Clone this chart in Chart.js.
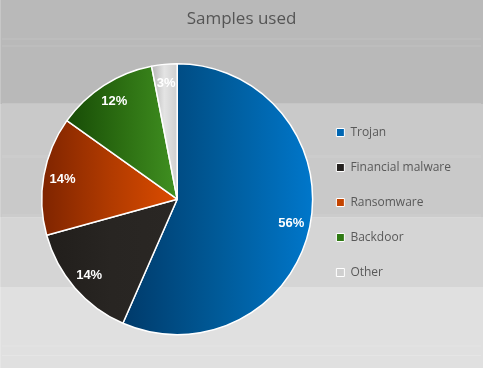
<!DOCTYPE html>
<html><head><meta charset="utf-8">
<script src="https://cdn.jsdelivr.net/npm/chart.js@4/dist/chart.umd.min.js"></script>
<style>html,body{margin:0;padding:0;background:#b9b9b9;overflow:hidden}canvas{display:block}</style>
</head><body>
<canvas id="c" width="483" height="368"></canvas>
<script>
// ---- data ----
const categories = ['Trojan', 'Financial malware', 'Ransomware', 'Backdoor', 'Other'];
const shares = [56, 14, 14, 12, 3];
const shareLabels = ['56%', '14%', '14%', '12%', '3%'];

// ---- styles ----
const sliceStops = [
  ['#003a6a', '#005a98', '#0077cb'],
  ['#211e1b', '#282522', '#2a2724'],
  ['#7e2400', '#b03a00', '#dc4c00'],
  ['#174b06', '#2c6e12', '#409021'],
  ['#b4b4b4', '#e4e4e4', '#cfcfcf']
];
const legendColors = ['#0066b2', '#252220', '#c44400', '#2f7a14', '#cfcfcf'];

function sliceGradient(ctx) {
  const chart = ctx.chart;
  const area = chart.chartArea;
  const i = ctx.dataIndex;
  if (!area || ctx.type !== 'data') return legendColors[i] || '#888';
  const data = ctx.dataset.data;
  const total = data.reduce((a, b) => a + b, 0);
  const cx = (area.left + area.right) / 2;
  const r = Math.min(area.right - area.left, area.bottom - area.top) / 2;
  let a0 = -Math.PI / 2;
  for (let k = 0; k < i; k++) a0 += data[k] / total * Math.PI * 2;
  const a1 = a0 + data[i] / total * Math.PI * 2;
  const xs = [cx, cx + r * Math.cos(a0), cx + r * Math.cos(a1)];
  for (let m = -2; m <= 4; m++) {
    const a = m * Math.PI;
    if (a > a0 && a < a1) xs.push(cx + r * Math.cos(a));
  }
  const x0 = Math.min(...xs), x1 = Math.max(...xs);
  const g = chart.ctx.createLinearGradient(x0, 0, Math.max(x1, x0 + 1), 0);
  const st = sliceStops[i];
  g.addColorStop(0, st[0]);
  g.addColorStop(0.5, st[1]);
  g.addColorStop(1, st[2]);
  return g;
}

const bandsPlugin = {
  id: 'bands',
  afterLayout(chart) {
    // center the title across the full canvas width
    if (chart.titleBlock) {
      chart.titleBlock.left = 0;
      chart.titleBlock.right = chart.width;
      chart.titleBlock.width = chart.width;
    }
  },
  beforeDraw(chart) {
    const c = chart.ctx, w = chart.width;
    c.save();
    const bands = [[0, 104, '#b9b9b9'], [104, 217, '#c9c9c9'], [217, 287, '#d5d5d5'], [287, 368, '#e0e0e0']];
    bands.forEach(b => { c.fillStyle = b[2]; c.fillRect(0, b[0], w, b[1] - b[0]); });
    c.fillStyle = 'rgba(255,255,255,0.07)';
    [[38, 2], [45, 2], [155, 3], [214, 4], [345, 2]].forEach(l => c.fillRect(2, l[0], w - 4, l[1]));
    c.fillStyle = 'rgba(255,255,255,0.18)';
    [[103, 1], [355, 1]].forEach(l => c.fillRect(2, l[0], w - 4, l[1]));
    c.fillStyle = 'rgba(255,255,255,0.2)';
    c.fillRect(0, 0, 1, 368);
    c.restore();
  }
};

const labelPlugin = {
  id: 'sliceLabels',
  afterDatasetsDraw(chart) {
    const meta = chart.getDatasetMeta(0);
    const c = chart.ctx;
    c.save();
    c.font = 'bold 13px "Liberation Sans", Arial, sans-serif';
    c.fillStyle = '#ffffff';
    c.textAlign = 'center';
    c.textBaseline = 'middle';
    meta.data.forEach((arc, i) => {
      const p = arc.getProps(['x', 'y', 'startAngle', 'endAngle', 'outerRadius'], true);
      const mid = (p.startAngle + p.endAngle) / 2;
      const rr = p.outerRadius * 0.86;
      c.fillText(shareLabels[i], p.x + rr * Math.cos(mid), p.y + rr * Math.sin(mid));
    });
    c.restore();
  }
};

new Chart(document.getElementById('c'), {
  type: 'pie',
  data: {
    labels: categories,
    datasets: [{
      data: shares,
      backgroundColor: sliceGradient,
      borderColor: '#ffffff',
      borderWidth: 1.5
    }]
  },
  options: {
    responsive: false,
    devicePixelRatio: 1,
    animation: false,
    layout: { padding: { left: 41, right: 22, top: 0, bottom: 9 } },
    plugins: {
      tooltip: { enabled: false },
      title: {
        display: true,
        text: 'Samples used',
        color: '#555555',
        font: { family: '"Open Sans", sans-serif', size: 17, weight: 'normal' },
        padding: { top: 9, bottom: 10 }
      },
      legend: {
        position: 'right',
        align: 'center',
        title: {
          display: true,
          text: '',
          font: { size: 10, lineHeight: 1 },
          padding: { top: 36, bottom: 0 }
        },
        labels: {
          boxWidth: 8,
          boxHeight: 8,
          padding: 23,
          color: '#595959',
          font: { family: '"Open Sans", sans-serif', size: 12 },
          generateLabels(chart) {
            return chart.data.labels.map((t, i) => ({
              text: t,
              fillStyle: legendColors[i],
              strokeStyle: '#ffffff',
              lineWidth: 1,
              fontColor: '#595959',
              hidden: !chart.getDataVisibility(i),
              index: i
            }));
          }
        }
      }
    }
  },
  plugins: [bandsPlugin, labelPlugin]
});
</script>
</body></html>
